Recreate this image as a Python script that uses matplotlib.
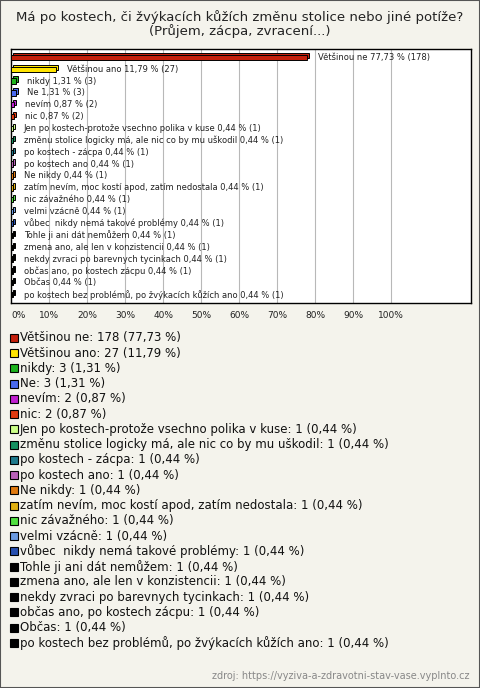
import matplotlib.pyplot as plt
import matplotlib.transforms as mtransforms
from matplotlib.patches import Rectangle

plt.rcParams['font.family'] = ['DejaVu Sans']

title = "Má po kostech, či žvýkacích kůžích změnu stolice nebo jiné potíže?\n(Průjem, zácpa, zvracení...)"
source = "zdroj: https://vyziva-a-zdravotni-stav-vase.vyplnto.cz"

answers = [
    "Většinou ne", "Většinou ano", "nikdy", "Ne", "nevím", "nic",
    "Jen po kostech-protože vsechno polika v kuse",
    "změnu stolice logicky má, ale nic co by mu uškodil",
    "po kostech - zácpa", "po kostech ano", "Ne nikdy",
    "zatím nevím, moc kostí apod. zatím nedostala",
    "nic závažného", "velmi vzácně", "vůbec  nikdy nemá takové problémy",
    "Tohle ji ani dát nemůžem", "zmena ano, ale len v konzistencii",
    "nekdy zvraci po barevnych tycinkach", "občas ano, po kostech zácpu",
    "Občas", "po kostech bez problémů, po žvýkacích kůžích ano",
]
counts = [178, 27, 3, 3, 2, 2, 1, 1, 1, 1, 1, 1, 1, 1, 1, 1, 1, 1, 1, 1, 1]
percents = [77.73, 11.79, 1.31, 1.31, 0.87, 0.87, 0.44, 0.44, 0.44, 0.44, 0.44,
            0.44, 0.44, 0.44, 0.44, 0.44, 0.44, 0.44, 0.44, 0.44, 0.44]
colors = ['#C4200C', '#FFE400', '#1DB31D', '#4A6AF0', '#C020D0', '#E03A10',
          '#CCFF88', '#159060', '#1F7A8C', '#B860B8', '#E07A10', '#E0B010',
          '#50E040', '#6A9AE0', '#2850B0', '#000000', '#000000', '#000000',
          '#000000', '#000000', '#000000']
xticks = [0, 10, 20, 30, 40, 50, 60, 70, 80, 90, 100]

bg = '#F4F3EC'
W, H = 480, 688
fig = plt.figure(figsize=(W / 100, H / 100), dpi=100, facecolor=bg)
fig.patches.append(Rectangle((0, 0), 1, 1, transform=fig.transFigure,
                             facecolor='none', edgecolor='#555555', lw=1.5))

fig.text(0.5, 1 - 24 / H, title, ha='center', va='center', fontsize=9.5,
         color='#222222', linespacing=1.0)

# plot area
ax = fig.add_axes([11 / W, 1 - 303 / H, 460 / W, 254 / H])
ax.set_facecolor('white')
n = len(answers)
ypos = list(range(n))

# 3D-ish depth behind the bars
depth = mtransforms.offset_copy(ax.transData, fig=fig, x=2, y=2, units='dots')
ax.barh(ypos, percents, height=0.45, color=colors, edgecolor='black',
        linewidth=0.7, transform=depth, zorder=2)
ax.barh(ypos, percents, height=0.45, color=colors, edgecolor='black',
        linewidth=0.7, zorder=3)

for y, name, p, c in zip(ypos, answers, percents, counts):
    ax.annotate(f"{name} {p:.2f} % ({c})".replace('.', ','),
                xy=(p, y), xytext=(8, 0), textcoords='offset points',
                va='center', ha='left', fontsize=6, color='#222222', zorder=4)

for t in xticks[1:]:
    ax.axvline(t, color='#B8B8B8', lw=0.8, zorder=1)

ax.set_xlim(0, 121)
ax.set_ylim(n - 0.3, -0.7)
ax.set_yticks([])
ax.set_xticks(xticks)
ax.set_xticklabels([f"{t}%" for t in xticks], fontsize=6.5, color='#222222')
ax.get_xticklabels()[0].set_ha('left')
ax.tick_params(axis='x', length=0, pad=6)
for s in ax.spines.values():
    s.set_color('black')
    s.set_linewidth(1)

# legend
y0, dy = 338, 15.24
for i, (name, c, p, col) in enumerate(zip(answers, counts, percents, colors)):
    yy = 1 - (y0 + i * dy) / H
    fig.patches.append(Rectangle((10 / W, yy - 4 / H), 8 / W, 8 / H,
                                 transform=fig.transFigure, facecolor=col,
                                 edgecolor='black', lw=0.8))
    fig.text(20 / W, yy, f"{name}: {c} ({p:.2f} %)".replace('.', ','),
             ha='left', va='center', fontsize=8.5, color='#111111')

fig.text(470 / W, 1 - 676 / H, source, ha='right', va='center', fontsize=7,
         color='#888888')

fig.savefig('out.png', dpi=100, facecolor=bg)
